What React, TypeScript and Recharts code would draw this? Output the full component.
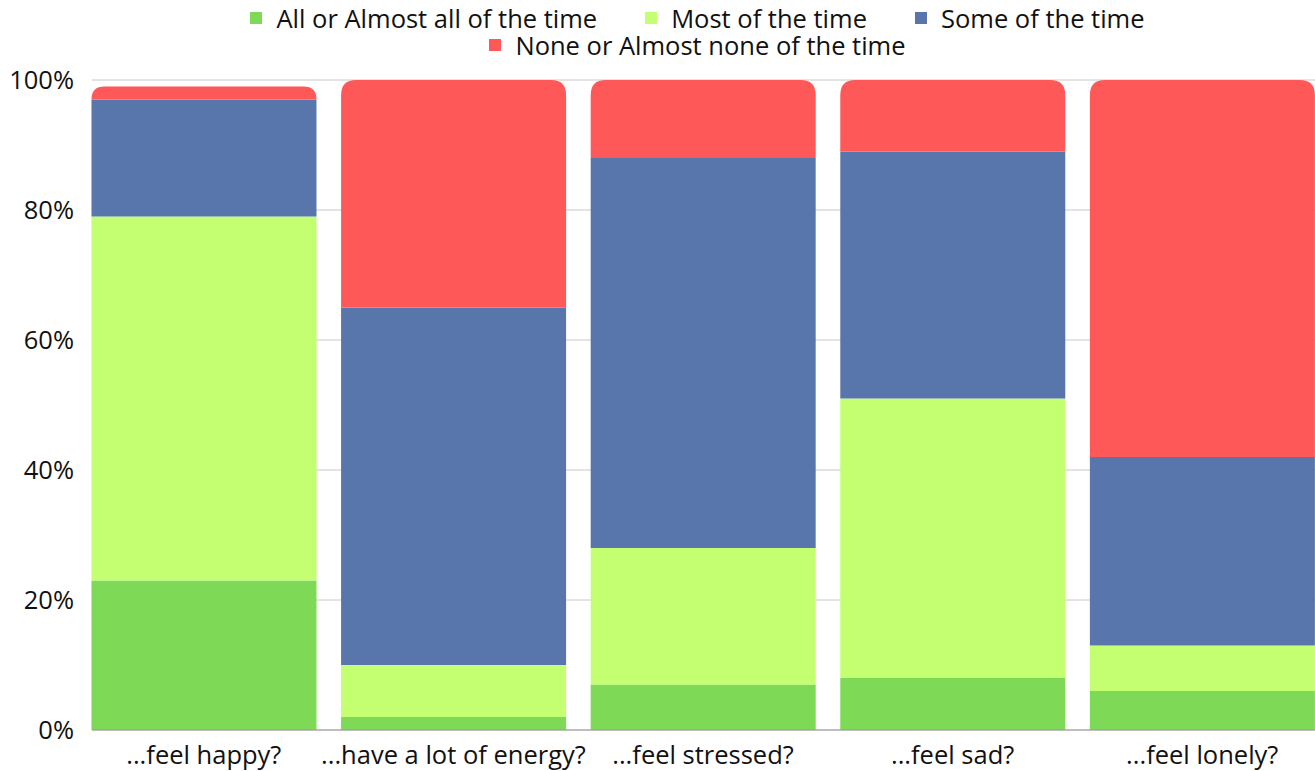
import React from 'react';
import { BarChart, Bar, XAxis, YAxis, CartesianGrid, Legend } from 'recharts';

const categories = ['...feel happy?', '...have a lot of energy?', '...feel stressed?', '...feel sad?', '...feel lonely?'];
const allOrAlmostAll = [23, 2, 7, 8, 6];
const mostOfTime = [56, 8, 21, 43, 7];
const someOfTime = [18, 55, 60, 38, 29];
const noneOrAlmostNone = [2, 35, 12, 11, 58];
const yTicks = [0, 20, 40, 60, 80, 100];

const seriesNames = ['All or Almost all of the time', 'Most of the time', 'Some of the time', 'None or Almost none of the time'];
const colors = ['#7ED957', '#C3FF70', '#5876AB', '#FF5858'];

const data = categories.map((c, i) => ({
  name: c,
  a: allOrAlmostAll[i],
  b: mostOfTime[i],
  c: someOfTime[i],
  d: noneOrAlmostNone[i],
}));

const FONT = '"Open Sans", sans-serif';
const FS = 25.5;

const TopRounded = (props: any) => {
  const { x, y, width, height, fill } = props;
  if (!height || height <= 0) return null;
  const r = Math.min(15, width / 2, height);
  const path = `M${x},${y + height} L${x},${y + r} Q${x},${y} ${x + r},${y} L${x + width - r},${y} Q${x + width},${y} ${x + width},${y + r} L${x + width},${y + height} Z`;
  return <path d={path} fill={fill} />;
};

const LegendItem = ({ color, label }: { color: string; label: string }) => (
  <span style={{ display: 'inline-flex', alignItems: 'center', margin: '0 24px', height: 27 }}>
    <span style={{ display: 'inline-block', width: 12, height: 12, background: color, marginRight: 14 }} />
    <span>{label}</span>
  </span>
);

const renderLegend = () => (
  <div style={{ fontFamily: FONT, fontSize: FS, color: '#111', lineHeight: '27px', textAlign: 'center', whiteSpace: 'nowrap' }}>
    <div style={{ height: 27 }}>
      <LegendItem color={colors[0]} label={seriesNames[0]} />
      <LegendItem color={colors[1]} label={seriesNames[1]} />
      <LegendItem color={colors[2]} label={seriesNames[2]} />
    </div>
    <div style={{ height: 27 }}>
      <LegendItem color={colors[3]} label={seriesNames[3]} />
    </div>
  </div>
);

export default function App() {
  return (
    <div style={{ position: 'absolute', left: 0, top: 0, background: '#fff' }}>
      <BarChart
        width={1315}
        height={771}
        data={data}
        margin={{ top: 26, right: 0, bottom: 0, left: 0 }}
        barCategoryGap="5%"
      >
        <CartesianGrid vertical={false} stroke="#c8c8c8" />
        <XAxis
          dataKey="name"
          height={41}
          tickLine={false}
          axisLine={{ stroke: '#999' }}
          tick={{ fontFamily: FONT, fontSize: FS, fill: '#111' }}
          tickMargin={10}
          interval={0}
          padding={{ left: -13, right: -12 }}
        />
        <YAxis
          width={92}
          domain={[0, 100]}
          ticks={yTicks}
          tickFormatter={(v: number) => `${v}%`}
          axisLine={false}
          tickLine={false}
          tick={{ fontFamily: FONT, fontSize: FS, fill: '#111' }}
          tickMargin={12}
        />
        <Legend
          verticalAlign="top"
          align="center"
          content={renderLegend}
          wrapperStyle={{ top: 1, left: 80, width: 1235 }}
        />
        <Bar dataKey="a" name={seriesNames[0]} stackId="s" fill={colors[0]} isAnimationActive={false} />
        <Bar dataKey="b" name={seriesNames[1]} stackId="s" fill={colors[1]} isAnimationActive={false} />
        <Bar dataKey="c" name={seriesNames[2]} stackId="s" fill={colors[2]} isAnimationActive={false} />
        <Bar dataKey="d" name={seriesNames[3]} stackId="s" fill={colors[3]} isAnimationActive={false} shape={TopRounded} />
      </BarChart>
    </div>
  );
}
